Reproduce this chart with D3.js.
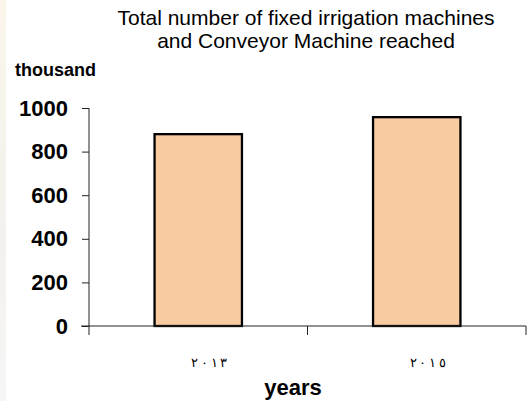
<!DOCTYPE html>
<html><head><meta charset="utf-8">
<script src="https://cdn.jsdelivr.net/npm/d3@7"></script>
<style>body{margin:0;background:#fff}svg{display:block;font-family:"Liberation Sans",Arial,sans-serif}</style>
</head><body>
<svg id="c" width="529" height="401"></svg>
<script>
const categories = ["٢٠١٣", "٢٠١٥"];
const values = [880, 958];
const yTicks = [0, 200, 400, 600, 800, 1000];
const titleLines = ["Total number of fixed irrigation machines", "and Conveyor Machine reached"];
const yUnit = "thousand";
const xTitle = "years";

const svg = d3.select("#c");
// faint left edge strip
const grad = svg.append("defs").append("linearGradient").attr("id","g").attr("x1",0).attr("x2",0).attr("y1",0).attr("y2",1);
grad.append("stop").attr("offset","0%").attr("stop-color","#faf6ea");
grad.append("stop").attr("offset","60%").attr("stop-color","#f3f1ee");
grad.append("stop").attr("offset","100%").attr("stop-color","#f6f6f6");
svg.append("rect").attr("x",0).attr("y",0).attr("width",6).attr("height",401).attr("fill","url(#g)");

const x = d3.scaleBand().domain(categories).range([89, 526]).padding(0);
const y = d3.scaleLinear().domain([0, 1000]).range([326, 108]);

// Bars
const bw = x.bandwidth() * 0.4;
svg.selectAll("rect.bar").data(values).join("rect").attr("class","bar")
  .attr("x", (d,i) => x(categories[i]) + x.bandwidth()/2 - bw/2)
  .attr("y", d => y(d)).attr("width", bw).attr("height", d => y(0) - y(d))
  .attr("fill", "#f9cba1").attr("stroke", "#000").attr("stroke-width", 2.3);

// Y axis
const ya = svg.append("g").attr("transform","translate(89,0)")
  .call(d3.axisLeft(y).tickValues(yTicks).tickFormat(d3.format("d")).tickSize(7).tickPadding(14).tickSizeOuter(0));
ya.select(".domain").remove();
ya.append("line").attr("x1",0).attr("x2",0).attr("y1",108).attr("y2",335).attr("stroke","#222");
ya.selectAll(".tick line").attr("stroke","#222");
ya.selectAll(".tick text").attr("font-size",22).attr("font-weight","bold").attr("fill","#000")
  .attr("font-family","'Liberation Sans', Arial, sans-serif");

// X axis
const xa = svg.append("g").attr("transform","translate(0,326)");
xa.append("line").attr("x1",81).attr("x2",526).attr("stroke","#222");
xa.selectAll("line.t").data(categories).join("line").attr("class","t")
  .attr("x1", d => x(d) + x.bandwidth()).attr("x2", d => x(d) + x.bandwidth())
  .attr("y1",0).attr("y2",9).attr("stroke","#222");
xa.selectAll("text").data(categories).join("text")
  .attr("x", d => x(d) + x.bandwidth()/2 + 11).attr("y", 41)
  .attr("text-anchor","middle").attr("font-size",13).attr("fill","#000")
  .attr("direction","ltr").attr("unicode-bidi","bidi-override")
  .style("white-space","pre")
  .text(d => d.split("").join("\u2009"));

// Titles
svg.append("text").attr("x",306).attr("y",25).attr("text-anchor","middle").attr("font-size",21).text(titleLines[0]);
svg.append("text").attr("x",306).attr("y",48).attr("text-anchor","middle").attr("font-size",21).text(titleLines[1]);
svg.append("text").attr("x",15).attr("y",76).attr("font-size",18).attr("font-weight","bold").text(yUnit);
svg.append("text").attr("x",293).attr("y",395).attr("text-anchor","middle").attr("font-size",22).attr("font-weight","bold").text(xTitle);
</script>
</body></html>
